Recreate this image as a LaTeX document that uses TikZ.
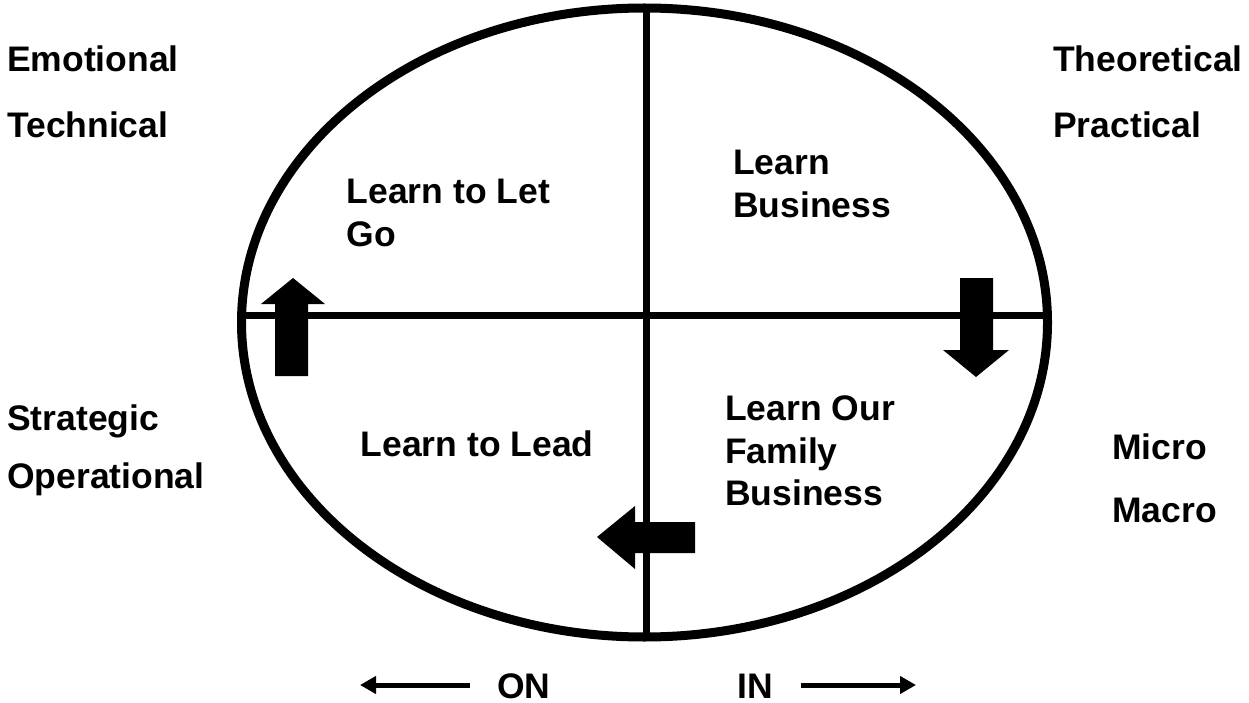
\documentclass[tikz,border=0pt]{standalone}
\usepackage{fontspec}
\setmainfont{Liberation Sans}
\usetikzlibrary{arrows.meta}
\begin{document}
\begin{tikzpicture}[x=1pt,y=-1pt,
  label text/.style={anchor=base west,inner sep=0pt,align=left,
    font=\bfseries\fontsize{35.5}{42.5}\selectfont},
  block arrow/.style={fill=black,draw=none},
  side arrow/.style={line width=5pt,-{Triangle[length=16pt,width=17pt]}}]
  \useasboundingbox (0,0) rectangle (1249,703);
  \fill[white] (0,0) rectangle (1249,703);

  % circle divided into four quadrants
  \draw[line width=9pt] (644.5,322.5) ellipse [x radius=403, y radius=314.5];
  \coordinate (top) at (646,8);
  \coordinate (bottom) at (646,637);
  \coordinate (left) at (241.5,315);
  \coordinate (right) at (1047.5,315);
  \draw[line width=7pt] (top) -- (bottom);
  \draw[line width=7pt] (left) -- (right);

  % block arrows turning round the circle
  \fill[block arrow] (275,376) -- (275,304) -- (261,304) -- (293,278)
    -- (325,304) -- (308,304) -- (308,376) -- cycle;
  \fill[block arrow] (960,278) -- (960,350) -- (943,350) -- (976,377)
    -- (1009,350) -- (993,350) -- (993,278) -- cycle;
  \fill[block arrow] (695,522) -- (635,522) -- (635,506) -- (597,537)
    -- (635,569) -- (635,553) -- (695,553) -- cycle;

  % side labels
  \node[label text] (emo) at (7,72) {Emotional};
  \node[label text] (tech) at (7,137.5) {Technical};
  \node[label text] (theo) at (1053,72) {Theoretical};
  \node[label text] (prac) at (1053,137.5) {Practical};
  \node[label text] (strat) at (7,430) {Strategic};
  \node[label text] (oper) at (7,488.5) {Operational};
  \node[label text] (micro) at (1112,459) {Micro};
  \node[label text] (macro) at (1112,522) {Macro};

  % quadrant labels (anchored at the baseline of the last line)
  \node[label text] (letgo) at (346.5,246.5) {Learn to Let\\Go};
  \node[label text] (business) at (733,217.5) {Learn\\Business};
  \node[label text] (lead) at (360.5,456.5) {Learn to Lead};
  \node[label text] (family) at (725,505.5) {Learn Our\\Family\\Business};

  % ON / IN axis
  \node[label text] (on) at (497,698) {ON};
  \node[label text] (in) at (737,698) {IN};
  \coordinate (onend) at (360,685);
  \coordinate (inend) at (916,685);
  \draw[side arrow] (on.west |- onend) ++(-27,0) -- (onend);
  \draw[side arrow] (in.east |- inend) ++(28,0) -- (inend);
\end{tikzpicture}
\end{document}
